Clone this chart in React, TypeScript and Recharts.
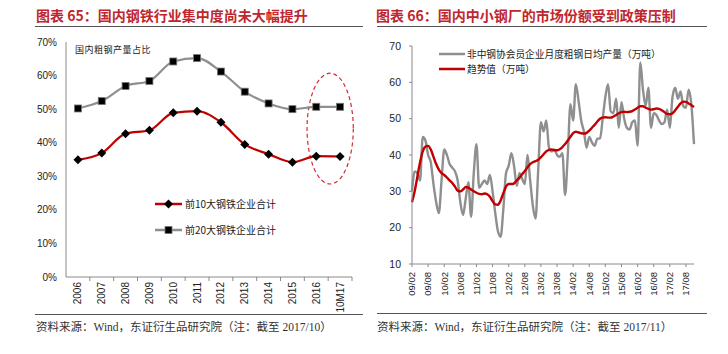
import React from 'react'
import { LineChart, Line, XAxis, YAxis, ReferenceArea } from 'recharts'

// 图表65：前10 / 前20 大钢铁企业粗钢产量占比（%）
const years = ['2006', '2007', '2008', '2009', '2010', '2011', '2012', '2013', '2014', '2015', '2016', '10M17']
const top10Share = [34.9, 36.9, 42.7, 43.7, 48.9, 49.4, 46.1, 39.5, 36.6, 34.2, 36.0, 35.9]
const top20Share = [50.2, 52.4, 56.9, 58.4, 64.2, 65.2, 61.2, 55.2, 51.7, 50.0, 50.7, 50.7]
const shareTicks = [0, 10, 20, 30, 40, 50, 60, 70]

// 图表66：非中钢协会员企业月度粗钢日均产量（万吨），09/02 - 17/11
const monthLabels: string[] = []
for (let y = 9; y <= 17; y++) {
  for (let m = 1; m <= 12; m++) {
    if ((y === 9 && m < 2) || (y === 17 && m > 11)) continue
    monthLabels.push(String(y).padStart(2, '0') + '/' + String(m).padStart(2, '0'))
  }
}
const dailyOutput = [
  30, 35.5, 35, 33, 45, 44, 40, 38, 32, 27,
  24, 33, 41.5, 40, 37.5, 36.5, 35.5, 33, 27, 23.5,
  28, 32.5, 23, 35, 43, 31, 32, 33, 32, 34.5,
  30, 24, 19, 17.5, 25, 35, 37, 40.5, 37, 31.5,
  35, 33.5, 32, 40, 33, 26, 22.5, 36, 49, 46.5,
  49.5, 42, 41, 41.5, 40, 39.5, 40.5, 29, 40, 54,
  49.5, 59.5, 55, 49.5, 46.5, 42, 45, 43.5, 42.5, 44.5,
  44.5, 50, 56, 59.5, 52, 51.5, 55.5, 47.5, 54.5, 50,
  47.5, 47, 49, 49.5, 42.5, 65.5, 58, 53.5, 58.5, 47.5,
  51.5, 51, 49.5, 48.5, 49, 52.5, 47.5, 56, 58.5, 55.5,
  57.5, 53.5, 53, 58, 54, 43
]
const trendValue = [
  27, 30, 34, 38, 41, 42.3, 42.5, 41.5, 39.5, 37.5,
  36, 35, 34.5, 33.8, 33, 32.3, 31.3, 30.2, 30, 30.5,
  31.2, 31, 30.5, 30, 29.6, 29.3, 29.2, 29.4, 29.2, 28.5,
  27.3, 26.4, 26.3, 27.5, 29.5, 31.3, 32, 32, 32.2, 33,
  33.7, 34.7, 35.6, 36.6, 37.5, 38, 38.3, 38.7, 39.4, 40.2,
  41, 41.4, 41.5, 41.3, 41.3, 41.6, 42.2, 43, 44, 45,
  46, 46.4, 46.2, 46, 45.9, 46.1, 46.7, 47.5, 48.3, 49.2,
  50, 50.3, 50.4, 50.3, 50.3, 50.6, 51, 51.5, 51.8, 51.9,
  51.8, 51.9, 52.1, 52.5, 53, 53.4, 53.4, 53, 52.7, 52.5,
  52.6, 52.8, 52.7, 52.3, 51.8, 51.3, 51.2, 51.5, 52.3, 53.3,
  54.2, 54.7, 54.6, 54.2, 53.7, 53.2
]
const outputTicks = [10, 20, 30, 40, 50, 60, 70]

const shareData = years.map((y, i) => ({ year: y, top10: top10Share[i], top20: top20Share[i] }))
const outputData = monthLabels.map((m, i) => ({ month: m, output: dailyOutput[i], trend: trendValue[i] }))

const RED = '#C00000'
const GREY = '#8F8F8F'
const AXIS = '#8A8A8A'
const TITLE_RED = '#C0262D'
const sans = '"Liberation Sans", Arial, sans-serif'
const cjk = '"Noto Sans CJK SC", sans-serif'
const serif = '"Liberation Serif", "Noto Sans CJK SC", serif'

const LEFT_PLOT_W = 286
const STEP = LEFT_PLOT_W / years.length

const Diamond = ({ cx, cy }: any) => (
  <polygon
    points={`${cx},${cy - 4.5} ${cx + 4.5},${cy} ${cx},${cy + 4.5} ${cx - 4.5},${cy}`}
    fill="#000"
  />
)

const Square = ({ cx, cy }: any) => (
  <rect x={cx - 3.5} y={cy - 3.5} width={7} height={7} fill="#000" stroke="#777" strokeWidth={0.8} />
)

const YearTick = ({ x, y, payload }: any) => (
  <g>
    <line x1={x + STEP / 2} y1={y} x2={x + STEP / 2} y2={y + 4} stroke={AXIS} />
    <text
      x={x}
      y={y + 5}
      transform={`rotate(-90 ${x} ${y + 5})`}
      textAnchor="end"
      dy="0.35em"
      fontSize={10}
      fill="#222"
      fontFamily={sans}
    >
      {payload.value}
    </text>
  </g>
)

const MonthTick = ({ x, y, payload }: any) => (
  <text
    x={x}
    y={y + 5}
    transform={`rotate(-90 ${x} ${y + 5})`}
    textAnchor="end"
    dy="0.35em"
    fontSize={9.5}
    fill="#222"
    fontFamily={sans}
  >
    {payload.value}
  </text>
)

// dashed ring around the last two years
const Ellipse = ({ x, y, width, height }: any) => (
  <ellipse
    cx={x + width / 2 + 2}
    cy={y + height / 2}
    rx={width * 0.97}
    ry={height / 2}
    fill="none"
    stroke="#D42A2F"
    strokeWidth={1.2}
    strokeDasharray="4 3"
  />
)

const abs = (left: number, top: number, extra: React.CSSProperties = {}): React.CSSProperties => ({
  position: 'absolute',
  left,
  top,
  whiteSpace: 'nowrap',
  ...extra
})

const App: React.FC = () => {
  return (
    <div style={{ position: 'absolute', left: 0, top: 0, width: 728, height: 354, background: '#fff', overflow: 'hidden' }}>
      {/* titles */}
      <div style={abs(36, 5, { fontFamily: cjk, fontSize: 14, color: TITLE_RED, fontWeight: 600, lineHeight: '20px' })}>
        图表 65：国内钢铁行业集中度尚未大幅提升
      </div>
      <div style={abs(376, 5, { fontFamily: cjk, fontSize: 14, color: TITLE_RED, fontWeight: 600, lineHeight: '20px' })}>
        图表 66：国内中小钢厂的市场份额受到政策压制
      </div>
      <div style={abs(35, 26, { width: 328, height: 1, background: '#555' })} />
      <div style={abs(377, 26, { width: 330, height: 1, background: '#555' })} />

      {/* left chart */}
      <div style={abs(0, 0)}>
        <LineChart width={364} height={354} data={shareData} margin={{ top: 42, right: 12, bottom: 37, left: 26 }}>
          <XAxis
            dataKey="year"
            height={40}
            padding={{ left: STEP / 2, right: STEP / 2 }}
            tickSize={0}
            tickMargin={0}
            tickLine={false}
            axisLine={{ stroke: AXIS }}
            interval={0}
            tick={<YearTick />}
          />
          <YAxis
            width={40}
            domain={[0, 70]}
            ticks={shareTicks}
            tickFormatter={(v: number) => v + '%'}
            tickLine={false}
            tickSize={7}
            tickMargin={2}
            axisLine={{ stroke: AXIS }}
            tick={{ fontSize: 10, fill: '#222', fontFamily: sans }}
          />
          <ReferenceArea x1="2016" x2="10M17" y1={27.7} y2={60.7} ifOverflow="visible" shape={<Ellipse />} />
          <Line
            dataKey="top20"
            stroke={GREY}
            strokeWidth={2.2}
            type="monotone"
            dot={<Square />}
            isAnimationActive={false}
          />
          <Line
            dataKey="top10"
            stroke={RED}
            strokeWidth={2.2}
            type="monotone"
            dot={<Diamond />}
            isAnimationActive={false}
          />
        </LineChart>
      </div>
      <div style={abs(75, 43, { fontFamily: cjk, fontSize: 9, letterSpacing: 0.5, color: '#222', lineHeight: '14px' })}>
        国内粗钢产量占比
      </div>
      {/* left legend */}
      <svg style={abs(154, 198)} width={30} height={40}>
        <line x1={1} y1={6} x2={28} y2={6} stroke={RED} strokeWidth={2.5} />
        <Diamond cx={14.5} cy={6} />
        <line x1={1} y1={32} x2={28} y2={32} stroke={GREY} strokeWidth={2.5} />
        <Square cx={14.5} cy={32} />
      </svg>
      <div style={abs(185, 197, { fontFamily: cjk, fontSize: 10, color: '#222', lineHeight: '14px' })}>前10大钢铁企业合计</div>
      <div style={abs(185, 223, { fontFamily: cjk, fontSize: 10, color: '#222', lineHeight: '14px' })}>前20大钢铁企业合计</div>

      {/* right chart */}
      <div style={abs(364, 0)}>
        <LineChart width={364} height={354} data={outputData} margin={{ top: 46, right: 34, bottom: 50, left: 8 }}>
          <XAxis
            dataKey="month"
            scale="point"
            height={40}
            interval={5}
            tickSize={3}
            tickMargin={0}
            tickLine={{ stroke: AXIS }}
            axisLine={{ stroke: AXIS }}
            tick={<MonthTick />}
          />
          <YAxis
            width={40}
            domain={[10, 70]}
            ticks={outputTicks}
            tickSize={3}
            tickMargin={8}
            tickLine={{ stroke: AXIS }}
            axisLine={{ stroke: AXIS }}
            tick={{ fontSize: 10.5, fill: '#222', fontFamily: sans }}
          />
          <Line
            dataKey="output"
            stroke={GREY}
            strokeWidth={2.4}
            type="monotone"
            dot={false}
            isAnimationActive={false}
          />
          <Line
            dataKey="trend"
            stroke={RED}
            strokeWidth={2.4}
            type="monotone"
            dot={false}
            isAnimationActive={false}
          />
        </LineChart>
      </div>
      {/* right legend */}
      <svg style={abs(438, 48)} width={28} height={26}>
        <line x1={1} y1={6} x2={27} y2={6} stroke={GREY} strokeWidth={2.5} />
        <line x1={1} y1={21} x2={27} y2={21} stroke={RED} strokeWidth={2.5} />
      </svg>
      <div style={abs(467, 47, { fontFamily: cjk, fontSize: 9.7, color: '#222', lineHeight: '14px' })}>
        非中钢协会员企业月度粗钢日均产量（万吨）
      </div>
      <div style={abs(467, 62, { fontFamily: cjk, fontSize: 9.7, color: '#222', lineHeight: '14px' })}>趋势值（万吨）</div>

      {/* footers */}
      <div style={abs(35, 314, { width: 328, height: 1, background: '#555' })} />
      <div style={abs(377, 313, { width: 330, height: 1, background: '#555' })} />
      <div style={abs(36, 319, { fontFamily: serif, fontSize: 11.5, color: '#333', lineHeight: '16px' })}>
        资料来源：Wind，东证衍生品研究院（注：截至 2017/10）
      </div>
      <div style={abs(377, 319, { fontFamily: serif, fontSize: 11.5, color: '#333', lineHeight: '16px' })}>
        资料来源：Wind，东证衍生品研究院（注：截至 2017/11）
      </div>
    </div>
  )
}

export default App
